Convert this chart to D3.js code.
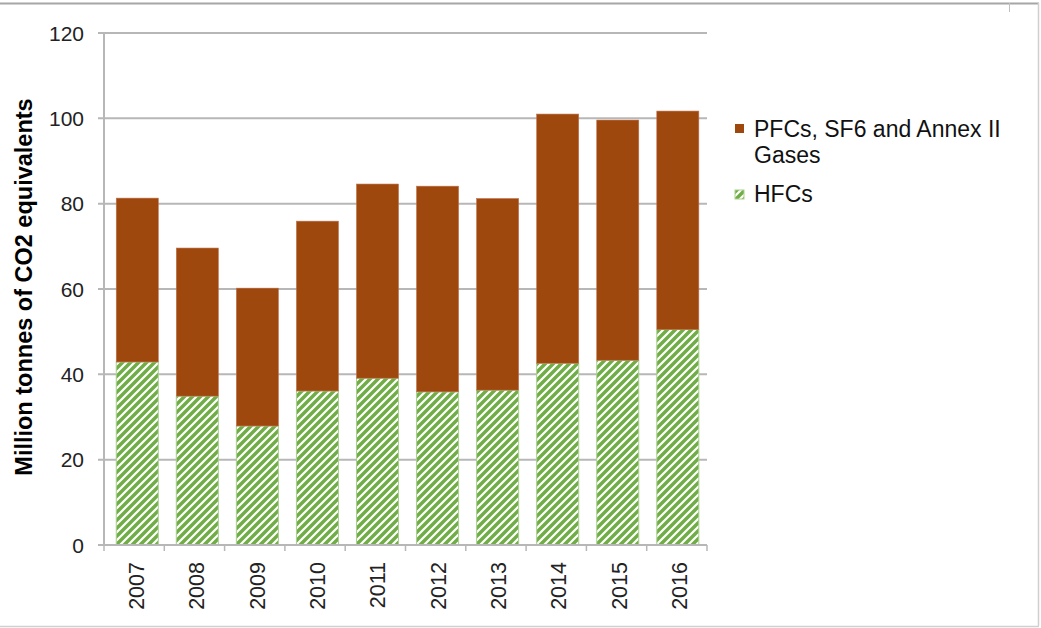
<!DOCTYPE html>
<html>
<head>
<meta charset="utf-8">
<script src="https://cdn.jsdelivr.net/npm/d3@7"></script>
<style>
  body { margin: 0; background: #fff; }
  text { font-family: "Liberation Sans", Arial, sans-serif; }
</style>
</head>
<body>
<svg id="chart" width="1041" height="628"></svg>
<script>
// data
const years = ["2007", "2008", "2009", "2010", "2011", "2012", "2013", "2014", "2015", "2016"];
const hfcs = [42.9, 34.9, 27.9, 36.1, 39.1, 35.9, 36.3, 42.6, 43.3, 50.5];
const otherGases = [38.4, 34.7, 32.3, 39.8, 45.5, 48.2, 44.9, 58.4, 56.3, 51.2];
const yTicks = [0, 20, 40, 60, 80, 100, 120];
const seriesNames = ["PFCs, SF6 and Annex II Gases", "HFCs"];

const svg = d3.select("#chart");

// outer frame
svg.append("line").attr("x1", 0).attr("x2", 1039).attr("y1", 3.5).attr("y2", 3.5)
    .attr("stroke", "#a6a6a6").attr("stroke-width", 2);
svg.append("line").attr("x1", 1038.5).attr("x2", 1038.5).attr("y1", 3).attr("y2", 626)
    .attr("stroke", "#d0d0d0").attr("stroke-width", 1.5);
svg.append("line").attr("x1", 0).attr("x2", 1039).attr("y1", 626.5).attr("y2", 626.5)
    .attr("stroke", "#d0d0d0").attr("stroke-width", 1.5);
svg.append("line").attr("x1", 1009.5).attr("x2", 1009.5).attr("y1", 3).attr("y2", 12)
    .attr("stroke", "#c0c0c0").attr("stroke-width", 1);

// hatch pattern for HFCs
const defs = svg.append("defs");
const pat = defs.append("pattern").attr("id", "hatch")
    .attr("patternUnits", "userSpaceOnUse").attr("width", 8).attr("height", 8);
pat.append("rect").attr("width", 8).attr("height", 8).attr("fill", "#70ad47");
pat.append("path").attr("d", "M-2,2 L2,-2 M0,8 L8,0 M6,10 L10,6")
    .attr("stroke", "#fff").attr("stroke-width", 2.2);

const margin = {top: 33, left: 104},
    width = 603,
    height = 512;

const g = svg.append("g").attr("transform", "translate(" + margin.left + "," + margin.top + ")");

let x = d3.scaleBand().domain(years).range([0, width]).paddingInner(0.3).paddingOuter(0.17).align(0.6),
    xb = d3.scaleBand().domain(years).range([0, width]),
    y = d3.scaleLinear().domain([0, 120]).range([height, 0]);

// gridlines
g.selectAll(".grid").data(yTicks.filter(d => d > 0)).enter().append("line")
    .attr("x1", -6).attr("x2", width)
    .attr("y1", d => y(d)).attr("y2", d => y(d))
    .attr("stroke", "#b7b7b7").attr("stroke-width", 2);

// y axis
g.append("line").attr("x1", 0).attr("x2", 0).attr("y1", 0).attr("y2", height)
    .attr("stroke", "#b7b7b7").attr("stroke-width", 2);
g.append("line").attr("x1", -6).attr("x2", 0).attr("y1", height).attr("y2", height)
    .attr("stroke", "#b7b7b7").attr("stroke-width", 2);
g.selectAll(".ylab").data(yTicks).enter().append("text")
    .attr("x", -20).attr("y", d => y(d) + 7.5)
    .attr("text-anchor", "end").style("font-size", "21px").attr("fill", "#222")
    .text(d => d);

svg.append("text")
    .attr("transform", "translate(32," + (margin.top + 254) + ") rotate(-90)")
    .attr("text-anchor", "middle").style("font-size", "23.5px").style("font-weight", "bold")
    .attr("fill", "#000")
    .text("Million tonnes of CO2 equivalents");

// bars
const stackData = years.map((yr, i) => ({year: yr, hfc: hfcs[i], other: otherGases[i]}));

g.selectAll(".bar-hfc").data(stackData).enter().append("rect")
    .attr("x", d => x(d.year)).attr("width", x.bandwidth())
    .attr("y", d => y(d.hfc)).attr("height", d => y(0) - y(d.hfc))
    .attr("fill", "url(#hatch)").attr("stroke", "#a9d18e").attr("stroke-width", 1);

g.selectAll(".bar-other").data(stackData).enter().append("rect")
    .attr("x", d => x(d.year)).attr("width", x.bandwidth())
    .attr("y", d => y(d.hfc + d.other)).attr("height", d => y(d.hfc) - y(d.hfc + d.other))
    .attr("fill", "#9e480e").attr("stroke", "#c0714a").attr("stroke-width", 0.6);

// x axis
g.append("line").attr("x1", 0).attr("x2", width).attr("y1", height).attr("y2", height)
    .attr("stroke", "#b7b7b7").attr("stroke-width", 2);
g.selectAll(".xtick").data(years.concat(["end"])).enter().append("line")
    .attr("x1", (d, i) => i * xb.bandwidth()).attr("x2", (d, i) => i * xb.bandwidth())
    .attr("y1", height).attr("y2", height + 6)
    .attr("stroke", "#b7b7b7").attr("stroke-width", 1.5);
g.selectAll(".xlab").data(years).enter().append("text")
    .attr("transform", d => "translate(" + (xb(d) + xb.bandwidth() / 2 + 10) + "," + (height + 17) + ") rotate(-90)")
    .attr("text-anchor", "end").style("font-size", "21.5px").attr("fill", "#222")
    .text(d => d);

// legend
const legend = svg.append("g").attr("transform", "translate(735,124)");
legend.append("rect").attr("x", 0).attr("y", 0).attr("width", 9).attr("height", 9)
    .attr("fill", "#9e480e");
legend.append("text").attr("x", 19).attr("y", 13).style("font-size", "23px").attr("fill", "#111")
    .text("PFCs, SF6 and Annex II");
legend.append("text").attr("x", 19).attr("y", 39).style("font-size", "23px").attr("fill", "#111")
    .text("Gases");
legend.append("rect").attr("x", 0).attr("y", 66).attr("width", 9).attr("height", 9)
    .attr("fill", "url(#hatch)").attr("stroke", "#a9d18e").attr("stroke-width", 1);
legend.append("text").attr("x", 19).attr("y", 78).style("font-size", "23px").attr("fill", "#111")
    .text(seriesNames[1]);
</script>
</body>
</html>
